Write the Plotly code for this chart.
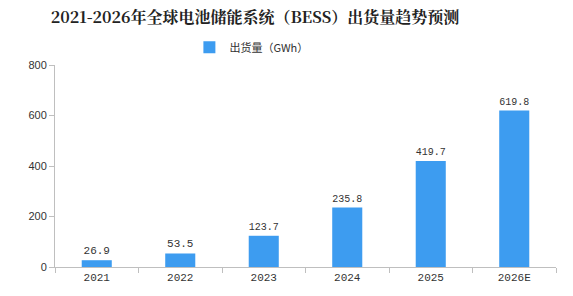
import plotly.graph_objects as go

categories = ["2021", "2022", "2023", "2024", "2025", "2026E"]
values = [26.9, 53.5, 123.7, 235.8, 419.7, 619.8]
value_labels = ["26.9", "53.5", "123.7", "235.8", "419.7", "619.8"]
series_name = "出货量（GWh）"
title_text = "2021-2026年全球电池储能系统（BESS）出货量趋势预测"
y_ticks = [0, 200, 400, 600, 800]

fig = go.Figure()
fig.add_trace(go.Bar(
    x=categories, y=values, name=series_name,
    marker=dict(color="#3d9cf0", line=dict(width=0)),
    width=0.36,
    text=value_labels, textposition="outside",
    textfont=dict(size=11, color="#333333", family="Liberation Mono, DejaVu Sans Mono"),
    cliponaxis=False,
))
fig.update_layout(
    width=573, height=296,
    margin=dict(l=55, r=17, t=65, b=26),
    paper_bgcolor="white", plot_bgcolor="white",
    title=dict(text="<b>" + title_text + "</b>", x=0.445, xanchor="center", y=1 - 17 / 296,
               yanchor="middle",
               font=dict(size=16, color="#222222", family="Noto Serif CJK SC, Noto Sans CJK SC")),
    showlegend=True,
    legend=dict(orientation="h", x=0.392, xanchor="center", y=1.088, yanchor="middle",
                font=dict(size=11, color="#333333", family="Noto Sans CJK SC"),
                itemwidth=30),
    font=dict(family="Noto Sans CJK SC", size=11, color="#333333"),
)
fig.update_xaxes(
    showline=True, linecolor="#bfbfbf", linewidth=1,
    ticks="outside", tickson="boundaries", ticklen=5, tickcolor="#bfbfbf",
    tickfont=dict(size=11, color="#333333", family="Liberation Mono, DejaVu Sans Mono"),
    showgrid=False, fixedrange=True,
)
fig.update_yaxes(
    range=[0, 800], tickvals=y_ticks,
    showline=True, linecolor="#bfbfbf", linewidth=1,
    ticks="outside", ticklen=5, tickcolor="#bfbfbf",
    tickfont=dict(size=11, color="#333333", family="Liberation Sans, Arial"),
    showgrid=False, zeroline=False,
)
fig.write_html("out.html")
